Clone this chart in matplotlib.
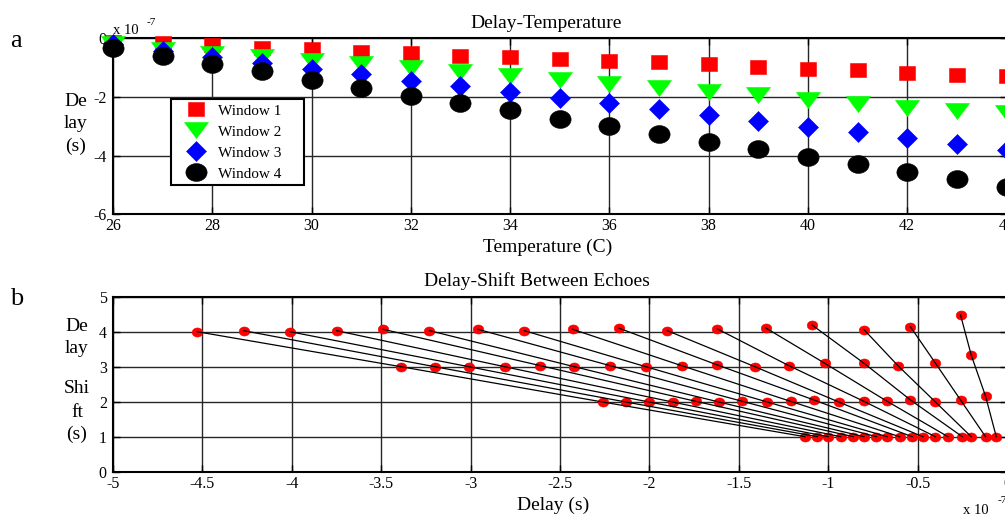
import numpy as np
import matplotlib
matplotlib.use("Agg")
import matplotlib.pyplot as plt
from matplotlib.path import Path

plt.rcParams["font.family"] = ["Liberation Serif", "DejaVu Serif"]
plt.rcParams["axes.unicode_minus"] = False

W, H = 1005, 515

# ---------------- panel a: Delay vs Temperature (delay in units of 1e-7 s) ----------------
temperature = [26, 27, 28, 29, 30, 31, 32, 33, 34, 35, 36, 37, 38, 39, 40, 41, 42, 43, 44]
window1 = [-0.12, -0.17, -0.24, -0.32, -0.38, -0.45, -0.51, -0.59, -0.63, -0.71,
           -0.76, -0.82, -0.88, -0.97, -1.04, -1.09, -1.18, -1.24, -1.27]
window2 = [-0.20, -0.39, -0.52, -0.65, -0.79, -0.87, -1.00, -1.14, -1.29, -1.42,
           -1.56, -1.70, -1.83, -1.94, -2.09, -2.23, -2.36, -2.49, -2.56]
window3 = [-0.20, -0.43, -0.64, -0.83, -1.04, -1.23, -1.44, -1.62, -1.82, -2.03,
           -2.22, -2.41, -2.63, -2.83, -3.01, -3.21, -3.40, -3.60, -3.80]
window4 = [-0.32, -0.60, -0.87, -1.13, -1.42, -1.70, -1.96, -2.21, -2.46, -2.76,
           -2.98, -3.27, -3.52, -3.79, -4.05, -4.29, -4.55, -4.80, -5.06]
series_labels = ["Window 1", "Window 2", "Window 3", "Window 4"]
top_xticks = [26, 28, 30, 32, 34, 36, 38, 40, 42, 44]
top_xticklabels = ["26", "28", "30", "32", "34", "36", "38", "40", "42", "44"]
top_yticks = [0, -2, -4, -6]
top_yticklabels = ["0", "-2", "-4", "-6"]

# ---------------- panel b: Delay-Shift between echoes (delay in units of 1e-7 s) ----------------
echo4_delay = [-4.53, -4.27, -4.01, -3.75, -3.49, -3.23, -2.96, -2.70, -2.43,
               -2.17, -1.90, -1.62, -1.35, -1.09, -0.80, -0.54, -0.26]
echo4_shift = [4.00, 4.03, 4.00, 4.03, 4.07, 4.03, 4.07, 4.03, 4.07,
               4.10, 4.03, 4.08, 4.11, 4.19, 4.06, 4.14, 4.48]
echo3_delay = [-3.39, -3.20, -3.01, -2.81, -2.61, -2.42, -2.22, -2.02, -1.82,
               -1.62, -1.41, -1.22, -1.02, -0.80, -0.61, -0.40, -0.20]
echo3_shift = [3.00, 3.00, 3.00, 3.00, 3.03, 3.00, 3.03, 3.00, 3.03,
               3.05, 3.00, 3.03, 3.10, 3.10, 3.03, 3.10, 3.33]
echo2_delay = [-2.26, -2.13, -2.00, -1.87, -1.74, -1.61, -1.48, -1.34, -1.21,
               -1.08, -0.94, -0.80, -0.67, -0.54, -0.40, -0.26, -0.12]
echo2_shift = [1.99, 1.99, 1.99, 1.99, 2.01, 1.99, 2.01, 1.99, 2.01,
               2.05, 1.99, 2.01, 2.01, 2.05, 1.99, 2.05, 2.16]
echo1_delay = [-1.13, -1.06, -1.00, -0.93, -0.86, -0.80, -0.73, -0.67, -0.60,
               -0.53, -0.47, -0.40, -0.33, -0.25, -0.20, -0.12, -0.06]
echo1_shift = [1.00, 1.00, 1.00, 1.00, 1.00, 1.00, 1.00, 1.00, 1.00,
               1.00, 1.00, 1.00, 1.00, 1.00, 1.00, 1.00, 1.00]
bot_xticks = [-5, -4.5, -4, -3.5, -3, -2.5, -2, -1.5, -1, -0.5, 0]
bot_xticklabels = ["-5", "-4.5", "-4", "-3.5", "-3", "-2.5", "-2", "-1.5", "-1", "-0.5", "0"]
bot_yticks = [0, 1, 2, 3, 4, 5]
bot_yticklabels = ["0", "1", "2", "3", "4", "5"]

# ---------------- marker shapes ----------------
t = np.linspace(0, 2 * np.pi, 73)
ellipse_wide = Path(np.column_stack([np.cos(t), 0.84 * np.sin(t)]), closed=True)
ellipse_small = Path(np.column_stack([np.cos(t), 0.86 * np.sin(t)]), closed=True)
tri_down = Path([(-1, 0.667), (1, 0.667), (0, -0.667), (-1, 0.667)], closed=True)
diamond = Path([(0, 1), (1, 0), (0, -1), (-1, 0), (0, 1)], closed=True)
rect = Path([(-1, -0.91), (1, -0.91), (1, 0.91), (-1, 0.91), (-1, -0.91)], closed=True)


def fx(x):
    return x / W


def fy(y):
    return 1 - y / H


fig = plt.figure(figsize=(W / 100, H / 100), dpi=100)

GRID_C = "0.15"
TICK_FS = 11.5


def style_axes(ax, pad_x, pad_y):
    for s in ax.spines.values():
        s.set_linewidth(1.5)
        s.set_color("black")
    ax.grid(True, color=GRID_C, lw=1.0, ls="-")
    ax.set_axisbelow(True)
    ax.tick_params(axis="both", direction="in", length=5, width=1, top=True, right=True,
                   labelsize=TICK_FS, colors="black")
    ax.tick_params(axis="x", pad=pad_x)
    ax.tick_params(axis="y", pad=pad_y)


# ---- top axes ----
ax1 = fig.add_axes([fx(113), fy(214.3), fx(1006.5 - 113), (214.3 - 38.3) / H])
styles = [
    dict(marker=rect, ms=11.3, color=(1, 0, 0)),
    dict(marker=tri_down, ms=17.3, color=(0, 1, 0)),
    dict(marker=diamond, ms=14.4, color=(0, 0, 1)),
    dict(marker=ellipse_wide, ms=15.3, color=(0, 0, 0)),
]
handles = []
for vals, st, lab in zip([window1, window2, window3, window4], styles, series_labels):
    h, = ax1.plot(temperature, vals, ls="none", marker=st["marker"], ms=st["ms"],
                  mfc=st["color"], mec=st["color"], mew=0.4, clip_on=False, zorder=3,
                  label=lab)
    handles.append(h)
ax1.set_xlim(26, 44)
ax1.set_ylim(-6, 0)
ax1.set_xticks(top_xticks)
ax1.set_xticklabels(top_xticklabels)
ax1.set_yticks(top_yticks)
ax1.set_yticklabels(top_yticklabels)
style_axes(ax1, 3, 4.5)

leg = ax1.legend(handles, series_labels, loc="upper left",
                 bbox_to_anchor=(fx(170.7), fy(186.7), 133.6 / W, 87.4 / H),
                 bbox_transform=fig.transFigure, mode="expand", borderaxespad=0,
                 frameon=True, fancybox=False, edgecolor="black", framealpha=1,
                 fontsize=11, borderpad=0.3, handlelength=2.71, handletextpad=0.1,
                 labelspacing=0.48, numpoints=1)
leg.get_frame().set_linewidth(1.5)
leg.set_zorder(10)

# ---- bottom axes ----
ax2 = fig.add_axes([fx(113), fy(471.7), fx(1007 - 113), (471.7 - 296.7) / H])
all_d = echo1_delay + echo2_delay + echo3_delay + echo4_delay
all_s = echo1_shift + echo2_shift + echo3_shift + echo4_shift
ax2.plot(all_d, all_s, ls="none", marker=ellipse_small, ms=7.6, mfc=(1, 0, 0),
         mec=(1, 0, 0), mew=0.4, zorder=3, clip_on=False)
for k in range(len(echo1_delay)):
    ax2.plot([echo4_delay[k], echo3_delay[k], echo2_delay[k], echo1_delay[k]],
             [echo4_shift[k], echo3_shift[k], echo2_shift[k], echo1_shift[k]],
             color="black", lw=0.9, zorder=4)
ax2.set_xlim(-5, 0)
ax2.set_ylim(0, 5)
ax2.set_xticks(bot_xticks)
ax2.set_xticklabels(bot_xticklabels)
ax2.set_yticks(bot_yticks)
ax2.set_yticklabels(bot_yticklabels)
style_axes(ax2, 3.3, 4.5)

# ---- texts ----
BIG = 14
fig.text(fx(546.5), fy(27.5), "Delay-Temperature", ha="center", va="baseline", fontsize=BIG)
fig.text(fx(548), fy(251.5), "Temperature (C)", ha="center", va="baseline", fontsize=BIG)
fig.text(fx(536.7), fy(285.5), "Delay-Shift Between Echoes", ha="center", va="baseline", fontsize=BIG)
fig.text(fx(553), fy(509.5), "Delay (s)", ha="center", va="baseline", fontsize=BIG)

for word, yb in [("De", 106), ("lay", 128), ("(s)", 150.5)]:
    fig.text(fx(76), fy(yb), word, ha="center", va="baseline", fontsize=BIG)
for word, yb in [("De", 331), ("lay", 353), ("Shi", 392.7), ("ft", 416.7), ("(s)", 439)]:
    fig.text(fx(77), fy(yb), word, ha="center", va="baseline", fontsize=BIG)

fig.text(fx(10), fy(46.7), "a", ha="left", va="baseline", fontsize=19)
fig.text(fx(10), fy(305), "b", ha="left", va="baseline", fontsize=19)

fig.text(fx(113), fy(33.7), "x 10", ha="left", va="baseline", fontsize=10.5)
fig.text(fx(146.5), fy(25), "-7", ha="left", va="baseline", fontsize=8)
fig.text(fx(962.5), fy(514), "x 10", ha="left", va="baseline", fontsize=10.5)
fig.text(fx(997.5), fy(503), "-7", ha="left", va="baseline", fontsize=8)

fig.savefig("out.png", dpi=100)
